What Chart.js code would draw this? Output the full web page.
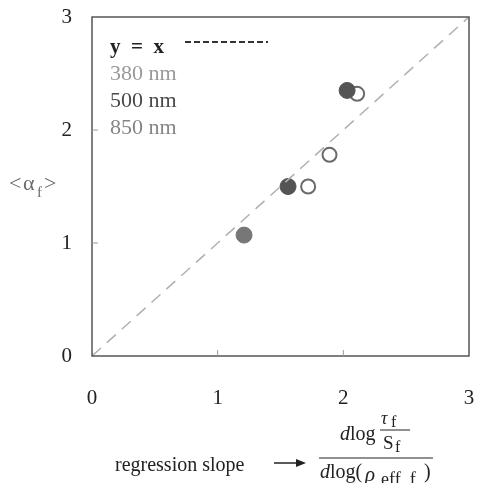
<!DOCTYPE html>
<html>
<head>
<meta charset="utf-8">
<script src="https://cdn.jsdelivr.net/npm/chart.js@4/dist/chart.umd.min.js"></script>
<style>
  html, body { margin: 0; padding: 0; background: #fff; overflow: hidden; }
  #wrap { width: 478px; height: 483px; position: relative; }
  #chart { display: block; }
</style>
</head>
<body>
<div id="wrap"><canvas id="chart"></canvas></div>
<script>
// data
const ticks = [0, 1, 2, 3];
const diag = [{x: 0, y: 0}, {x: 3, y: 3}];
const pts380 = [{x: 1.21, y: 1.07}];
const pts500 = [{x: 1.56, y: 1.50}, {x: 2.03, y: 2.35}];
const pts850 = [{x: 1.72, y: 1.50}, {x: 1.89, y: 1.78}, {x: 2.11, y: 2.32}];
const legendNames = ["380 nm", "500 nm", "850 nm"];
const legendColors = ["#9a9a9a", "#4a4a4a", "#858585"];

const serif = "'Liberation Serif', 'DejaVu Serif', serif";

// frame, inner ticks, legend and axis titles
const extras = {
  id: "extras",
  afterDraw(chart) {
    const c = chart.ctx;
    const a = chart.chartArea;
    const xs = chart.scales.x, ys = chart.scales.y;
    c.save();
    c.strokeStyle = "#555";
    c.lineWidth = 1.5;
    c.strokeRect(a.left, a.top, a.right - a.left, a.bottom - a.top);
    // small inward ticks
    c.lineWidth = 1;
    c.strokeStyle = "#999";
    [1, 2].forEach(v => {
      let px = xs.getPixelForValue(v);
      c.beginPath(); c.moveTo(px, a.bottom); c.lineTo(px, a.bottom - 6); c.stroke();
      let py = ys.getPixelForValue(v);
      c.beginPath(); c.moveTo(a.left, py); c.lineTo(a.left + 6, py); c.stroke();
    });

    // legend block
    c.textBaseline = "alphabetic";
    c.textAlign = "left";
    c.fillStyle = "#222";
    c.font = "bold 21px " + serif;
    c.fillText("y  =  x", 110, 53);
    c.strokeStyle = "#333";
    c.lineWidth = 2;
    c.setLineDash([6, 3]);
    c.beginPath(); c.moveTo(185, 42); c.lineTo(268, 42); c.stroke();
    c.setLineDash([]);
    c.font = "22px " + serif;
    legendNames.forEach((n, i) => {
      c.fillStyle = legendColors[i];
      c.fillText(n, 110, 80 + i * 27);
    });

    // y title <α_f>
    c.fillStyle = "#6a6a6a";
    c.font = "22px " + serif;
    c.fillText("<", 9, 190);
    c.fillText("α", 23, 190);
    c.font = "15px " + serif;
    c.fillText("f", 37, 197);
    c.font = "22px " + serif;
    c.fillText(">", 44, 190);

    // x title
    c.fillStyle = "#222";
    c.font = "20px " + serif;
    c.fillText("regression slope", 115, 471);
    c.strokeStyle = "#222";
    c.lineWidth = 1.5;
    c.beginPath(); c.moveTo(274, 463); c.lineTo(300, 463); c.stroke();
    c.beginPath(); c.moveTo(306, 463); c.lineTo(296, 459); c.lineTo(296, 467); c.closePath(); c.fill();
    // fraction bar
    c.lineWidth = 1;
    c.beginPath(); c.moveTo(319, 458); c.lineTo(433, 458); c.stroke();
    // numerator
    c.font = "italic 20px " + serif;
    c.fillText("d", 340, 440);
    c.font = "20px " + serif;
    c.fillText("log", 350, 440);
    c.font = "italic 18px " + serif;
    c.fillText("τ", 381, 424);
    c.font = "16px " + serif;
    c.fillText("f", 391, 427);
    c.beginPath(); c.moveTo(380, 430); c.lineTo(410, 430); c.stroke();
    c.font = "19px " + serif;
    c.fillText("S", 383, 449);
    c.font = "16px " + serif;
    c.fillText("f", 395, 452);
    // denominator
    c.font = "italic 20px " + serif;
    c.fillText("d", 320, 478);
    c.font = "20px " + serif;
    c.fillText("log(", 330, 478);
    c.font = "italic 21px " + serif;
    c.fillText("ρ", 365, 481);
    c.font = "18px " + serif;
    c.fillText("eff, f", 381, 485);
    c.font = "20px " + serif;
    c.fillText(")", 424, 478);
    c.restore();
  }
};

new Chart(document.getElementById("chart"), {
  type: "scatter",
  data: {
    datasets: [
      {
        label: "y = x",
        type: "line",
        data: diag,
        borderColor: "#b0b0b0",
        borderWidth: 1.5,
        borderDash: [12, 8],
        pointRadius: 0,
        fill: false
      },
      {
        label: "380 nm",
        data: pts380,
        pointRadius: 8,
        pointBackgroundColor: "#777",
        pointBorderColor: "#777",
        pointBorderWidth: 1
      },
      {
        label: "500 nm",
        data: pts500,
        pointRadius: 8,
        pointBackgroundColor: "#545454",
        pointBorderColor: "#545454",
        pointBorderWidth: 1
      },
      {
        label: "850 nm",
        data: pts850,
        pointRadius: 7,
        pointBackgroundColor: "#fff",
        pointBorderColor: "#6a6a6a",
        pointBorderWidth: 2
      }
    ]
  },
  options: {
    responsive: true,
    maintainAspectRatio: false,
    animation: false,
    layout: { padding: { top: 17, right: 6, left: 0, bottom: 0 } },
    plugins: { legend: { display: false }, tooltip: { enabled: false } },
    scales: {
      x: {
        type: "linear",
        min: 0, max: 3,
        afterBuildTicks: s => { s.ticks = ticks.map(v => ({value: v})); },
        afterFit: s => { s.height = 127; s.paddingLeft = 0; s.paddingRight = 0; },
        grid: { display: false, drawTicks: false },
        border: { display: false },
        ticks: { padding: 30, color: "#222", font: { family: serif, size: 21 } }
      },
      y: {
        type: "linear",
        min: 0, max: 3,
        afterBuildTicks: s => { s.ticks = ticks.map(v => ({value: v})); },
        afterFit: s => { s.width = 92; s.paddingTop = 0; s.paddingBottom = 0; },
        grid: { display: false, drawTicks: false },
        border: { display: false },
        ticks: { padding: 20, color: "#222", font: { family: serif, size: 21 } }
      }
    }
  },
  plugins: [extras]
});
</script>
</body>
</html>
